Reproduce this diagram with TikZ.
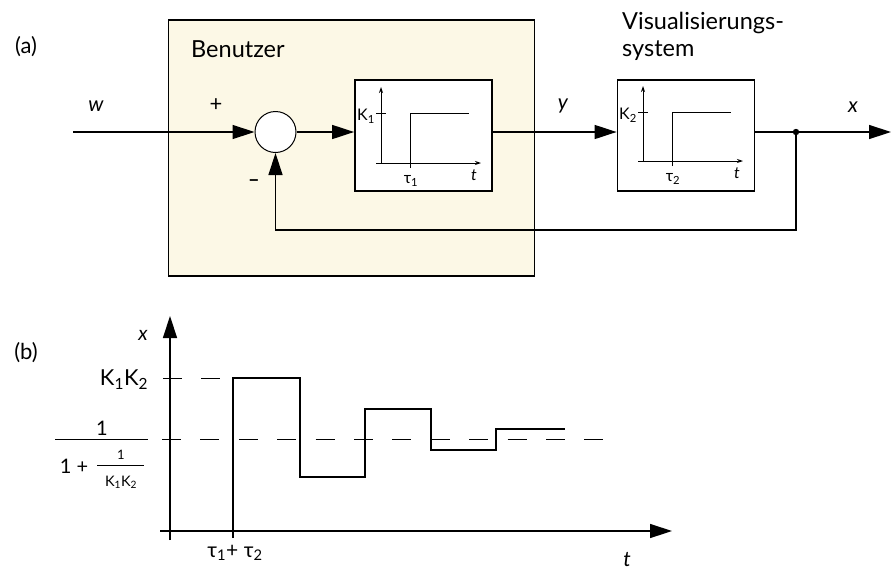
\documentclass[tikz,border=0pt]{standalone}
\usepackage{fontspec}
\setmainfont{Lato}
\usetikzlibrary{arrows.meta}
\definecolor{cream}{HTML}{FCF8E6}
\tikzset{
  sig/.style={line width=1.4pt},
  thin/.style={line width=0.9pt},
  bigarrow/.style={-{Triangle[length=22pt,width=14pt]}},
  smallarrow/.style={-{Stealth[length=6pt,width=4pt]}},
  blk/.style={draw, line width=1.8pt, fill=white, minimum width=137pt, minimum height=111pt, inner sep=0pt},
  lbl/.style={font=\fontsize{22}{24}\selectfont, inner sep=0pt},
  ilbl/.style={font=\fontsize{21}{24}\itshape, inner sep=0pt},
  title/.style={font=\fontsize{23.5}{26}\selectfont, inner sep=0pt, anchor=base west},
  klbl/.style={font=\fontsize{16}{18}\selectfont, inner sep=0pt},
}
\begin{document}
\begin{tikzpicture}[x=1pt,y=-1pt]
\useasboundingbox (0,0) rectangle (891,579);
% ---------- (a) ----------
\node[lbl] (la) at (26,47) {(a)};
\node[draw, line width=1.6pt, fill=cream, minimum width=366pt, minimum height=256pt, inner sep=0pt] (user) at (351.5,148) {};
\node[title] (usert) at (191,57) {Benutzer};
\node[title] (vist) at (622,29) {Visualisierungs-};
\node[title] (vist2) at (622,56) {system};

\node[draw, circle, fill=white, line width=1pt, minimum size=41pt, inner sep=0pt] (sum) at (275.5,132) {};
\node[blk] (b1) at (423.5,135.5) {};
\node[blk] (b2) at (686,135.5) {};

\coordinate (win) at (73,132);
\coordinate (xout) at (891,132);
\coordinate (dot) at (796,132);
\coordinate (fb) at (796,230);

\draw[sig, bigarrow] (win) -- (sum.west);
\draw[sig, bigarrow] (sum.east) -- (b1.west |- sum.east);
\draw[sig, bigarrow] (b1.east |- sum.east) -- (b2.west |- sum.east);
\draw[sig, bigarrow] (b2.east |- sum.east) -- (xout);
\fill (dot) circle (3.2pt);
\draw[sig, bigarrow] (dot) -- (fb) -| (sum.south);

\node[ilbl] (lw) at (96,106) {w};
\node[ilbl] (ly) at (563,106) {y};
\node[ilbl] (lx) at (853,107) {x};
\node[lbl] (lplus) at (216,105) {+};
\node[lbl, font=\fontsize{20}{22}\bfseries] (lminus) at (254,183) {–};

% inner graph block 1
\draw[thin, smallarrow] (381,163) -- (381,87);
\draw[thin, smallarrow] (376,163) -- (481,163);
\draw[thin] (376,113) -- (386,113);
\draw[thin] (410,168) -- (410,113) -- (469,113);
\node[klbl] (k1) at (366,116) {K\textsubscript{1}};
\node[klbl] (tau1) at (411,181) {τ\textsubscript{1}};
\node[klbl, font=\fontsize{16}{18}\itshape] (t1) at (474,175) {t};

% inner graph block 2
\draw[thin, smallarrow] (643,161) -- (643,86);
\draw[thin, smallarrow] (638,161) -- (743,161);
\draw[thin] (638,112) -- (648,112);
\draw[thin] (672,166) -- (672,112) -- (731,112);
\node[klbl] (k2) at (628,115) {K\textsubscript{2}};
\node[klbl] (tau2) at (673,179) {τ\textsubscript{2}};
\node[klbl, font=\fontsize{16}{18}\itshape] (t2) at (737,173) {t};

% ---------- (b) ----------
\node[lbl] (lb) at (26,353) {(b)};
\coordinate (yb) at (170,540);
\coordinate (yt) at (170,316);
\coordinate (xl) at (160,531);
\coordinate (xr) at (672,531);
\draw[sig, bigarrow] (yb) -- (yt);
\draw[sig, bigarrow] (xl) -- (xr);
\draw[sig] (233,531) -- (233,538);

% dashed levels
\draw[thin, dash pattern=on 19pt off 19pt] (163,378) -- (221,378);
\draw[thin, dash pattern=on 19pt off 19.4pt] (162,439) -- (604,439);

% step response
\draw[sig, line width=1.3pt] (233,531) -- (233,378) -- (300,378) -- (300,477) -- (365,477) -- (365,409) -- (431,409) -- (431,450) -- (496,450) -- (496,429) -- (565,429);

% labels
\node[ilbl, font=\fontsize{20}{22}\itshape] (lxb) at (143,335) {x};
\node[ilbl] (ltb) at (627,560) {t};
\node[lbl, font=\fontsize{22}{24}\selectfont] (kk) at (124,380) {K\textsubscript{1}K\textsubscript{2}};
\node[lbl, font=\fontsize{20}{22}\selectfont] (one) at (102,428) {1};
\draw[line width=1pt] (55,439) -- (148,439);
\node[lbl, font=\fontsize{20}{22}\selectfont] (onep) at (74,466) {1 +};
\node[lbl, font=\fontsize{13}{15}\selectfont] (one2) at (121,455) {1};
\draw[line width=0.8pt] (97,465) -- (144,465);
\node[lbl, font=\fontsize{14.5}{16}\selectfont] (kk2) at (121,482) {K\textsubscript{1}K\textsubscript{2}};
\node[lbl, font=\fontsize{21}{23}\selectfont] (tt) at (235,553) {τ\textsubscript{1}+ τ\textsubscript{2}};
\end{tikzpicture}
\end{document}
